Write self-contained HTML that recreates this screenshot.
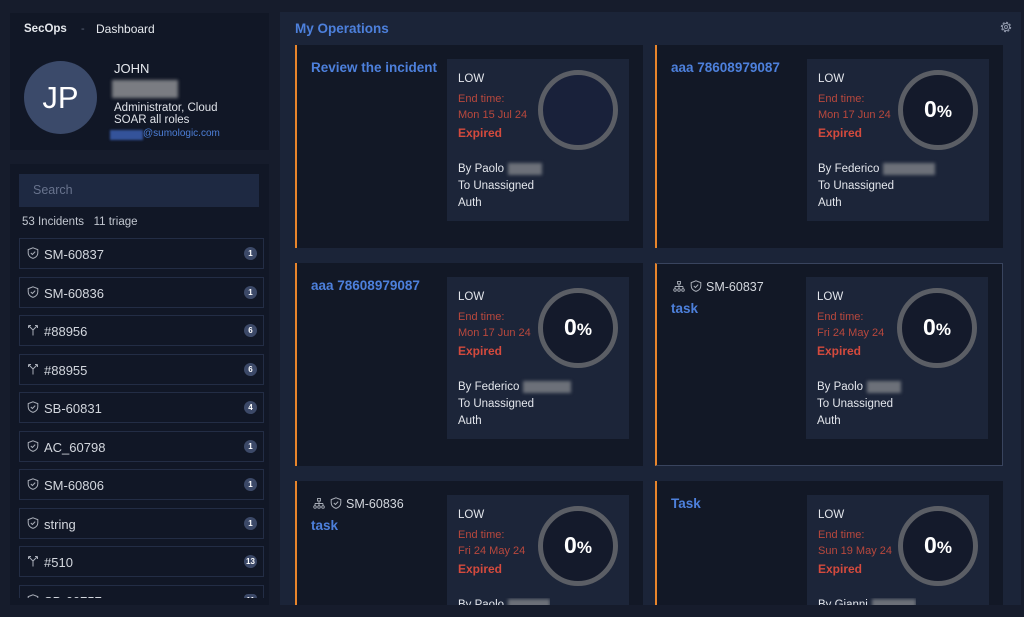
<!DOCTYPE html>
<html><head><meta charset="utf-8">
<style>
*{box-sizing:border-box;margin:0;padding:0}
html,body{width:1024px;height:617px;overflow:hidden;background:#161c2c;font-family:"Liberation Sans",sans-serif;color:#dfe3ea}
.abs{position:absolute}
.panel{position:absolute;background:#111726}
.item{position:absolute;left:9px;width:245px;height:31px;border:1px solid #232d45;background:#111726}
.item .ic{position:absolute;left:7px;top:8px}
.item .t{position:absolute;left:24px;top:9px;font-size:13px;line-height:14px;color:#d3d7de}
.item .b{position:absolute;left:224px;top:8px;width:13px;height:13px;border-radius:50%;background:#3c4968;color:#fff;font-size:8px;font-weight:bold;line-height:13px;text-align:center}
#main{position:absolute;left:280px;top:12px;width:741px;height:593px;background:#1b2438;overflow:hidden}
.card{position:absolute;width:348px;height:203px;background:#121826;border-left:2px solid #e8852b;overflow:hidden}
.title{position:absolute;left:14px;top:16px;font-size:13.5px;font-weight:bold;color:#4d80dc;line-height:14px;white-space:nowrap}
.box{position:absolute;left:150px;top:14px;width:182px;height:162px;background:#1c2539;overflow:hidden}
.box .l{position:absolute;left:11px;line-height:14px;white-space:nowrap}
.w{font-size:11.5px;color:#e3e6ec}
.r{font-size:11px;color:#b9483d}
.e{font-size:12px;font-weight:bold;color:#d44a3d}
.ring{position:absolute;left:91px;top:11px}
.blur{display:inline-block;vertical-align:middle;height:12px;background:#6c7079;filter:blur(1.5px);margin-left:4px}
.sm{position:absolute;left:16px;top:16px;font-size:12.5px;line-height:14px;color:#d3d7de;white-space:nowrap}
</style></head><body>

<!-- profile panel -->
<div class="panel" style="left:10px;top:13px;width:259px;height:137px">
  <div class="abs" style="left:14px;top:10px;font-size:11.5px;font-weight:bold;color:#e6e9ee">SecOps</div>
  <div class="abs" style="left:71px;top:10px;font-size:11px;color:#5b6478">-</div>
  <div class="abs" style="left:86px;top:9px;font-size:12px;color:#e6e9ee">Dashboard</div>
  <div class="abs" style="left:14px;top:48px;width:73px;height:73px;border-radius:50%;background:#3b4a6a;color:#fff;font-size:31px;text-align:center;line-height:73px">JP</div>
  <div class="abs" style="left:104px;top:48px;font-size:13px;color:#e6e9ee">JOHN</div>
  <div class="abs" style="left:102px;top:67px;width:66px;height:18px;background:#7a7c82;filter:blur(1.5px)"></div>
  <div class="abs" style="left:104px;top:89px;font-size:11.5px;line-height:12px;color:#e0e3e9">Administrator, Cloud<br>SOAR all roles</div>
  <div class="abs" style="left:100px;top:117px;width:33px;height:10px;background:#34539a;filter:blur(1px)"></div>
  <div class="abs" style="left:133px;top:115px;font-size:10px;color:#4d7fd8">@sumologic.com</div>
</div>

<!-- list panel -->
<div class="panel" style="left:10px;top:164px;width:259px;height:441px;overflow:hidden">
  <div class="abs" style="left:9px;top:10px;width:240px;height:33px;background:#1e2942"></div>
  <div class="abs" style="left:23px;top:19px;font-size:12.5px;color:#68738d">Search</div>
  <div class="abs" style="left:12px;top:52px;font-size:11.5px;color:#c2c7d0">53 Incidents&nbsp;&nbsp; 11 triage</div>
  <div class="abs" style="left:0;top:0;width:259px;height:434px;overflow:hidden">
    <div class="item" style="top:74px"><svg class="ic" width="12" height="12" viewBox="0 0 12 12"><path d="M6 .8L10.8 2.6V5.8C10.8 8.6 8.8 10.5 6 11.4 3.2 10.5 1.2 8.6 1.2 5.8V2.6Z" fill="none" stroke="#a9aeb8" stroke-width="1"/><path d="M3.8 6L5.4 7.5 8.2 4.6" fill="none" stroke="#a9aeb8" stroke-width="1"/></svg><div class="t">SM-60837</div><div class="b">1</div></div>
    <div class="item" style="top:113px"><svg class="ic" width="12" height="12" viewBox="0 0 12 12"><path d="M6 .8L10.8 2.6V5.8C10.8 8.6 8.8 10.5 6 11.4 3.2 10.5 1.2 8.6 1.2 5.8V2.6Z" fill="none" stroke="#a9aeb8" stroke-width="1"/><path d="M3.8 6L5.4 7.5 8.2 4.6" fill="none" stroke="#a9aeb8" stroke-width="1"/></svg><div class="t">SM-60836</div><div class="b">1</div></div>
    <div class="item" style="top:151px"><svg class="ic" width="12" height="12" viewBox="0 0 12 12"><path d="M6 11.5V6M6 6L1.5 1.5M6 6L10.5 1.5M1.5 1.5H4M1.5 1.5V4M10.5 1.5H8M10.5 1.5V4" fill="none" stroke="#a9aeb8" stroke-width="1"/></svg><div class="t">#88956</div><div class="b">6</div></div>
    <div class="item" style="top:190px"><svg class="ic" width="12" height="12" viewBox="0 0 12 12"><path d="M6 11.5V6M6 6L1.5 1.5M6 6L10.5 1.5M1.5 1.5H4M1.5 1.5V4M10.5 1.5H8M10.5 1.5V4" fill="none" stroke="#a9aeb8" stroke-width="1"/></svg><div class="t">#88955</div><div class="b">6</div></div>
    <div class="item" style="top:228px"><svg class="ic" width="12" height="12" viewBox="0 0 12 12"><path d="M6 .8L10.8 2.6V5.8C10.8 8.6 8.8 10.5 6 11.4 3.2 10.5 1.2 8.6 1.2 5.8V2.6Z" fill="none" stroke="#a9aeb8" stroke-width="1"/><path d="M3.8 6L5.4 7.5 8.2 4.6" fill="none" stroke="#a9aeb8" stroke-width="1"/></svg><div class="t">SB-60831</div><div class="b">4</div></div>
    <div class="item" style="top:267px"><svg class="ic" width="12" height="12" viewBox="0 0 12 12"><path d="M6 .8L10.8 2.6V5.8C10.8 8.6 8.8 10.5 6 11.4 3.2 10.5 1.2 8.6 1.2 5.8V2.6Z" fill="none" stroke="#a9aeb8" stroke-width="1"/><path d="M3.8 6L5.4 7.5 8.2 4.6" fill="none" stroke="#a9aeb8" stroke-width="1"/></svg><div class="t">AC_60798</div><div class="b">1</div></div>
    <div class="item" style="top:305px"><svg class="ic" width="12" height="12" viewBox="0 0 12 12"><path d="M6 .8L10.8 2.6V5.8C10.8 8.6 8.8 10.5 6 11.4 3.2 10.5 1.2 8.6 1.2 5.8V2.6Z" fill="none" stroke="#a9aeb8" stroke-width="1"/><path d="M3.8 6L5.4 7.5 8.2 4.6" fill="none" stroke="#a9aeb8" stroke-width="1"/></svg><div class="t">SM-60806</div><div class="b">1</div></div>
    <div class="item" style="top:344px"><svg class="ic" width="12" height="12" viewBox="0 0 12 12"><path d="M6 .8L10.8 2.6V5.8C10.8 8.6 8.8 10.5 6 11.4 3.2 10.5 1.2 8.6 1.2 5.8V2.6Z" fill="none" stroke="#a9aeb8" stroke-width="1"/><path d="M3.8 6L5.4 7.5 8.2 4.6" fill="none" stroke="#a9aeb8" stroke-width="1"/></svg><div class="t">string</div><div class="b">1</div></div>
    <div class="item" style="top:382px"><svg class="ic" width="12" height="12" viewBox="0 0 12 12"><path d="M6 11.5V6M6 6L1.5 1.5M6 6L10.5 1.5M1.5 1.5H4M1.5 1.5V4M10.5 1.5H8M10.5 1.5V4" fill="none" stroke="#a9aeb8" stroke-width="1"/></svg><div class="t">#510</div><div class="b">13</div></div>
    <div class="item" style="top:421px;height:13px;border-bottom:none;overflow:hidden"><svg class="ic" width="12" height="12" viewBox="0 0 12 12"><path d="M6 .8L10.8 2.6V5.8C10.8 8.6 8.8 10.5 6 11.4 3.2 10.5 1.2 8.6 1.2 5.8V2.6Z" fill="none" stroke="#a9aeb8" stroke-width="1"/></svg><div class="t" style="height:3px;overflow:hidden">SB-60757</div><div class="b" style="height:4px;border-radius:6px 6px 0 0;overflow:hidden">11</div></div>
  </div>
</div>

<!-- main -->
<div id="main">
  <div class="abs" style="left:15px;top:9px;font-size:13.5px;font-weight:bold;color:#4d80dc">My Operations</div>
  <svg class="abs" style="left:719px;top:8px" width="14" height="14" viewBox="0 0 14 14"><circle cx="7" cy="7" r="4.6" fill="none" stroke="#8b93a6" stroke-width="1.2" stroke-dasharray="2 1.6"/><circle cx="7" cy="7" r="3.6" fill="none" stroke="#8b93a6" stroke-width="1"/><circle cx="7" cy="7" r="1.5" fill="none" stroke="#8b93a6" stroke-width="1"/></svg>

  <!-- card 1 -->
  <div class="card" style="left:15px;top:33px">
    <div class="title">Review the incident</div>
    <div class="box">
      <div class="l w" style="top:13px">LOW</div>
      <div class="l r" style="top:33px">End time:</div>
      <div class="l r" style="top:49px">Mon 15 Jul 24</div>
      <div class="l e" style="top:67px">Expired</div>
      <div class="l w" style="top:103px">By Paolo<span class="blur" style="width:34px"></span></div>
      <div class="l w" style="top:120px">To Unassigned</div>
      <div class="l w" style="top:137px">Auth</div>
      <svg class="ring" width="80" height="80"><circle cx="40" cy="40" r="37.5" fill="#19213a" stroke="#5b5e65" stroke-width="5"/></svg>
    </div>
  </div>

  <!-- card 2 -->
  <div class="card" style="left:375px;top:33px">
    <div class="title">aaa 78608979087</div>
    <div class="box">
      <div class="l w" style="top:13px">LOW</div>
      <div class="l r" style="top:33px">End time:</div>
      <div class="l r" style="top:49px">Mon 17 Jun 24</div>
      <div class="l e" style="top:67px">Expired</div>
      <div class="l w" style="top:103px">By Federico<span class="blur" style="width:52px"></span></div>
      <div class="l w" style="top:120px">To Unassigned</div>
      <div class="l w" style="top:137px">Auth</div>
      <svg class="ring" width="80" height="80"><circle cx="40" cy="40" r="37.5" fill="#141a2b" stroke="#5b5e65" stroke-width="5"/><text x="40" y="47" text-anchor="middle" fill="#fff" font-family="Liberation Sans" font-weight="bold"><tspan font-size="23">0</tspan><tspan font-size="17">%</tspan></text></svg>
    </div>
  </div>

  <!-- card 3 -->
  <div class="card" style="left:15px;top:251px">
    <div class="title">aaa 78608979087</div>
    <div class="box">
      <div class="l w" style="top:13px">LOW</div>
      <div class="l r" style="top:33px">End time:</div>
      <div class="l r" style="top:49px">Mon 17 Jun 24</div>
      <div class="l e" style="top:67px">Expired</div>
      <div class="l w" style="top:103px">By Federico<span class="blur" style="width:48px"></span></div>
      <div class="l w" style="top:120px">To Unassigned</div>
      <div class="l w" style="top:137px">Auth</div>
      <svg class="ring" width="80" height="80"><circle cx="40" cy="40" r="37.5" fill="#141a2b" stroke="#5b5e65" stroke-width="5"/><text x="40" y="47" text-anchor="middle" fill="#fff" font-family="Liberation Sans" font-weight="bold"><tspan font-size="23">0</tspan><tspan font-size="17">%</tspan></text></svg>
    </div>
  </div>

  <!-- card 4 -->
  <div class="card" style="left:375px;top:251px;border:1px solid #39445e;border-left:2px solid #e8852b">
    <svg class="abs" style="left:16px;top:17px" width="12" height="11" viewBox="0 0 12 11"><rect x="4.5" y=".5" width="3" height="2.5" fill="none" stroke="#a9aeb8" stroke-width=".9"/><path d="M6 3V5.5M2 5.5H10M2 5.5V7.5M6 5.5V7.5M10 5.5V7.5" fill="none" stroke="#a9aeb8" stroke-width=".9"/><circle cx="2" cy="9" r="1.3" fill="none" stroke="#a9aeb8" stroke-width=".9"/><circle cx="6" cy="9" r="1.3" fill="none" stroke="#a9aeb8" stroke-width=".9"/><circle cx="10" cy="9" r="1.3" fill="none" stroke="#a9aeb8" stroke-width=".9"/></svg>
    <svg class="abs" style="left:33px;top:16px" width="12" height="12" viewBox="0 0 12 12"><path d="M6 .8L10.8 2.6V5.8C10.8 8.6 8.8 10.5 6 11.4 3.2 10.5 1.2 8.6 1.2 5.8V2.6Z" fill="none" stroke="#a9aeb8" stroke-width="1"/><path d="M3.8 6L5.4 7.5 8.2 4.6" fill="none" stroke="#a9aeb8" stroke-width="1"/></svg>
    <div class="sm" style="left:49px">SM-60837</div>
    <div class="title" style="top:38px">task</div>
    <div class="box" style="top:13px;left:149px">
      <div class="l w" style="top:13px">LOW</div>
      <div class="l r" style="top:33px">End time:</div>
      <div class="l r" style="top:49px">Fri 24 May 24</div>
      <div class="l e" style="top:67px">Expired</div>
      <div class="l w" style="top:103px">By Paolo<span class="blur" style="width:34px"></span></div>
      <div class="l w" style="top:120px">To Unassigned</div>
      <div class="l w" style="top:137px">Auth</div>
      <svg class="ring" width="80" height="80"><circle cx="40" cy="40" r="37.5" fill="#141a2b" stroke="#5b5e65" stroke-width="5"/><text x="40" y="47" text-anchor="middle" fill="#fff" font-family="Liberation Sans" font-weight="bold"><tspan font-size="23">0</tspan><tspan font-size="17">%</tspan></text></svg>
    </div>
  </div>

  <!-- card 5 -->
  <div class="card" style="left:15px;top:469px;height:124px">
    <svg class="abs" style="left:16px;top:17px" width="12" height="11" viewBox="0 0 12 11"><rect x="4.5" y=".5" width="3" height="2.5" fill="none" stroke="#a9aeb8" stroke-width=".9"/><path d="M6 3V5.5M2 5.5H10M2 5.5V7.5M6 5.5V7.5M10 5.5V7.5" fill="none" stroke="#a9aeb8" stroke-width=".9"/><circle cx="2" cy="9" r="1.3" fill="none" stroke="#a9aeb8" stroke-width=".9"/><circle cx="6" cy="9" r="1.3" fill="none" stroke="#a9aeb8" stroke-width=".9"/><circle cx="10" cy="9" r="1.3" fill="none" stroke="#a9aeb8" stroke-width=".9"/></svg>
    <svg class="abs" style="left:33px;top:16px" width="12" height="12" viewBox="0 0 12 12"><path d="M6 .8L10.8 2.6V5.8C10.8 8.6 8.8 10.5 6 11.4 3.2 10.5 1.2 8.6 1.2 5.8V2.6Z" fill="none" stroke="#a9aeb8" stroke-width="1"/><path d="M3.8 6L5.4 7.5 8.2 4.6" fill="none" stroke="#a9aeb8" stroke-width="1"/></svg>
    <div class="sm" style="left:49px">SM-60836</div>
    <div class="title" style="top:38px">task</div>
    <div class="box" style="height:110px">
      <div class="l w" style="top:13px">LOW</div>
      <div class="l r" style="top:33px">End time:</div>
      <div class="l r" style="top:49px">Fri 24 May 24</div>
      <div class="l e" style="top:67px">Expired</div>
      <div class="l w" style="top:103px;height:7px;overflow:hidden">By Paolo<span class="blur" style="width:42px"></span></div>
      <svg class="ring" width="80" height="80"><circle cx="40" cy="40" r="37.5" fill="#141a2b" stroke="#5b5e65" stroke-width="5"/><text x="40" y="47" text-anchor="middle" fill="#fff" font-family="Liberation Sans" font-weight="bold"><tspan font-size="23">0</tspan><tspan font-size="17">%</tspan></text></svg>
    </div>
  </div>

  <!-- card 6 -->
  <div class="card" style="left:375px;top:469px;height:124px">
    <div class="title">Task</div>
    <div class="box" style="height:110px">
      <div class="l w" style="top:13px">LOW</div>
      <div class="l r" style="top:33px">End time:</div>
      <div class="l r" style="top:49px">Sun 19 May 24</div>
      <div class="l e" style="top:67px">Expired</div>
      <div class="l w" style="top:103px;height:7px;overflow:hidden">By Gianni<span class="blur" style="width:44px"></span></div>
      <svg class="ring" width="80" height="80"><circle cx="40" cy="40" r="37.5" fill="#141a2b" stroke="#5b5e65" stroke-width="5"/><text x="40" y="47" text-anchor="middle" fill="#fff" font-family="Liberation Sans" font-weight="bold"><tspan font-size="23">0</tspan><tspan font-size="17">%</tspan></text></svg>
    </div>
  </div>
</div>

</body></html>
